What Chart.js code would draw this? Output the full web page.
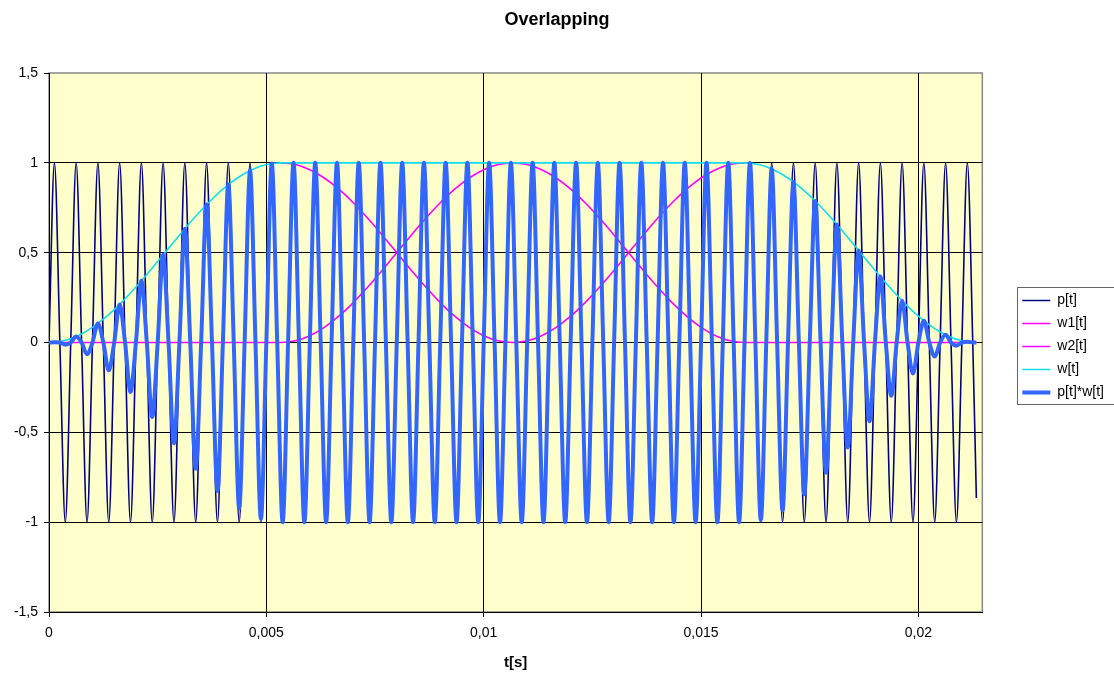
<!DOCTYPE html>
<html>
<head>
<meta charset="utf-8">
<title>Overlapping</title>
<script src="https://cdn.jsdelivr.net/npm/chart.js@4.4.1/dist/chart.umd.min.js"></script>
<style>
  html, body { margin: 0; padding: 0; background: #fff; }
  canvas { display: block; }
</style>
</head>
<body>
<canvas id="chart" width="1114" height="673"></canvas>
<script>
// time is kept in milliseconds, the axis labels show seconds
const xTickValues = [0, 5, 10, 15, 20];
const xTickLabels = ['0', '0,005', '0,01', '0,015', '0,02'];
const yTickValues = [-1.5, -1, -0.5, 0, 0.5, 1, 1.5];
const yTickLabels = ['-1,5', '-1', '-0,5', '0', '0,5', '1', '1,5'];

// p[t] and p[t]*w[t], read at each peak / zero crossing
const tWave = [
  0, 0.125, 0.25, 0.375, 0.5, 0.625, 0.75, 0.875,
  1, 1.125, 1.25, 1.375, 1.5, 1.625, 1.75, 1.875,
  2, 2.125, 2.25, 2.375, 2.5, 2.625, 2.75, 2.875,
  3, 3.125, 3.25, 3.375, 3.5, 3.625, 3.75, 3.875,
  4, 4.125, 4.25, 4.375, 4.5, 4.625, 4.75, 4.875,
  5, 5.125, 5.25, 5.375, 5.5, 5.625, 5.75, 5.875,
  6, 6.125, 6.25, 6.375, 6.5, 6.625, 6.75, 6.875,
  7, 7.125, 7.25, 7.375, 7.5, 7.625, 7.75, 7.875,
  8, 8.125, 8.25, 8.375, 8.5, 8.625, 8.75, 8.875,
  9, 9.125, 9.25, 9.375, 9.5, 9.625, 9.75, 9.875,
  10, 10.125, 10.25, 10.375, 10.5, 10.625, 10.75, 10.875,
  11, 11.125, 11.25, 11.375, 11.5, 11.625, 11.75, 11.875,
  12, 12.125, 12.25, 12.375, 12.5, 12.625, 12.75, 12.875,
  13, 13.125, 13.25, 13.375, 13.5, 13.625, 13.75, 13.875,
  14, 14.125, 14.25, 14.375, 14.5, 14.625, 14.75, 14.875,
  15, 15.125, 15.25, 15.375, 15.5, 15.625, 15.75, 15.875,
  16, 16.125, 16.25, 16.375, 16.5, 16.625, 16.75, 16.875,
  17, 17.125, 17.25, 17.375, 17.5, 17.625, 17.75, 17.875,
  18, 18.125, 18.25, 18.375, 18.5, 18.625, 18.75, 18.875,
  19, 19.125, 19.25, 19.375, 19.5, 19.625, 19.75, 19.875,
  20, 20.125, 20.25, 20.375, 20.5, 20.625, 20.75, 20.875,
  21, 21.125, 21.25, 21.333
];

const pValues = [
  0, 1, 0, -1, 0, 1, 0, -1,
  0, 1, 0, -1, 0, 1, 0, -1,
  0, 1, 0, -1, 0, 1, 0, -1,
  0, 1, 0, -1, 0, 1, 0, -1,
  0, 1, 0, -1, 0, 1, 0, -1,
  0, 1, 0, -1, 0, 1, 0, -1,
  0, 1, 0, -1, 0, 1, 0, -1,
  0, 1, 0, -1, 0, 1, 0, -1,
  0, 1, 0, -1, 0, 1, 0, -1,
  0, 1, 0, -1, 0, 1, 0, -1,
  0, 1, 0, -1, 0, 1, 0, -1,
  0, 1, 0, -1, 0, 1, 0, -1,
  0, 1, 0, -1, 0, 1, 0, -1,
  0, 1, 0, -1, 0, 1, 0, -1,
  0, 1, 0, -1, 0, 1, 0, -1,
  0, 1, 0, -1, 0, 1, 0, -1,
  0, 1, 0, -1, 0, 1, 0, -1,
  0, 1, 0, -1, 0, 1, 0, -1,
  0, 1, 0, -1, 0, 1, 0, -1,
  0, 1, 0, -1, 0, 1, 0, -1,
  0, 1, 0, -1, 0, 1, 0, -1,
  0, 1, 0, -0.866
];

const pwValues = [
  0, 0.001, 0, -0.012, 0, 0.034, 0, -0.065,
  0, 0.106, 0, -0.155, 0, 0.212, 0, -0.275,
  0, 0.343, 0, -0.415, 0, 0.488, 0, -0.561,
  0, 0.633, 0, -0.702, 0, 0.768, 0, -0.827,
  0, 0.879, 0, -0.922, 0, 0.957, 0, -0.982,
  0, 0.996, 0, -1, 0, 1, 0, -1,
  0, 1, 0, -1, 0, 1, 0, -1,
  0, 1, 0, -1, 0, 1, 0, -1,
  0, 1, 0, -1, 0, 1, 0, -1,
  0, 1, 0, -1, 0, 1, 0, -1,
  0, 1, 0, -1, 0, 1, 0, -1,
  0, 1, 0, -1, 0, 1, 0, -1,
  0, 1, 0, -1, 0, 1, 0, -1,
  0, 1, 0, -1, 0, 1, 0, -1,
  0, 1, 0, -1, 0, 1, 0, -1,
  0, 1, 0, -1, 0, 1, 0, -1,
  0, 0.999, 0, -0.988, 0, 0.967, 0, -0.935,
  0, 0.894, 0, -0.845, 0, 0.788, 0, -0.725,
  0, 0.657, 0, -0.585, 0, 0.512, 0, -0.439,
  0, 0.367, 0, -0.297, 0, 0.233, 0, -0.173,
  0, 0.121, 0, -0.078, 0, 0.043, 0, -0.018,
  0, 0.004, 0, 0
];

// w[t]
const tW = [
  0, 0.333, 0.667, 1, 1.333, 1.667, 2, 2.333, 2.667, 3, 3.333, 3.667, 4, 4.333, 4.667, 5, 5.333,
  16, 16.333, 16.667, 17, 17.333, 17.667, 18, 18.333, 18.667, 19, 19.333, 19.667, 20, 20.333, 20.667, 21, 21.333
];
const wValues = [
  0, 0.0096, 0.0381, 0.0843, 0.1464, 0.2222, 0.3087, 0.4025, 0.5, 0.5975, 0.6913, 0.7778, 0.8536, 0.9157, 0.9619, 0.9904, 1,
  1, 0.9904, 0.9619, 0.9157, 0.8536, 0.7778, 0.6913, 0.5975, 0.5, 0.4025, 0.3087, 0.2222, 0.1464, 0.0843, 0.0381, 0.0096, 0
];

// w1[t]
const tW1 = [
  0, 5.333, 5.667, 6, 6.333, 6.667, 7, 7.333, 7.667, 8, 8.333, 8.667, 9, 9.333, 9.667, 10, 10.333, 10.667,
  11, 11.333, 11.667, 12, 12.333, 12.667, 13, 13.333, 13.667, 14, 14.333, 14.667, 15, 15.333, 15.667, 16, 21.333
];
const w1Values = [
  0, 0, 0.0096, 0.0381, 0.0843, 0.1464, 0.2222, 0.3087, 0.4025, 0.5, 0.5975, 0.6913, 0.7778, 0.8536, 0.9157, 0.9619, 0.9904, 1,
  0.9904, 0.9619, 0.9157, 0.8536, 0.7778, 0.6913, 0.5975, 0.5, 0.4025, 0.3087, 0.2222, 0.1464, 0.0843, 0.0381, 0.0096, 0, 0
];

// w2[t]
const tW2 = [
  5.333, 5.667, 6, 6.333, 6.667, 7, 7.333, 7.667, 8, 8.333, 8.667, 9, 9.333, 9.667, 10, 10.333, 10.667,
  11, 11.333, 11.667, 12, 12.333, 12.667, 13, 13.333, 13.667, 14, 14.333, 14.667, 15, 15.333, 15.667, 16
];
const w2Values = [
  1, 0.9904, 0.9619, 0.9157, 0.8536, 0.7778, 0.6913, 0.5975, 0.5, 0.4025, 0.3087, 0.2222, 0.1464, 0.0843, 0.0381, 0.0096, 0,
  0.0096, 0.0381, 0.0843, 0.1464, 0.2222, 0.3087, 0.4025, 0.5, 0.5975, 0.6913, 0.7778, 0.8536, 0.9157, 0.9619, 0.9904, 1
];

const toPoints = (xs, ys) => xs.map((x, i) => ({ x: x, y: ys[i] }));

Chart.defaults.font.family = '"Liberation Sans", Arial, sans-serif';
Chart.defaults.color = '#000';

// yellow plot area with grey frame
const plotArea = {
  id: 'plotArea',
  beforeDraw(chart) {
    const { ctx, chartArea: a } = chart;
    ctx.save();
    ctx.fillStyle = '#FFFFCC';
    ctx.fillRect(a.left, a.top, a.right - a.left, a.bottom - a.top);
    ctx.strokeStyle = '#888';
    ctx.lineWidth = 1.5;
    ctx.strokeRect(a.left, a.top, a.right - a.left, a.bottom - a.top);
    ctx.restore();
  }
};

// frame round the legend
const legendFrame = {
  id: 'legendFrame',
  afterDraw(chart) {
    const boxes = chart.legend && chart.legend.legendHitBoxes;
    if (!boxes || !boxes.length) return;
    const first = boxes[0];
    const last = boxes[boxes.length - 1];
    const { ctx } = chart;
    ctx.save();
    ctx.strokeStyle = '#666';
    ctx.lineWidth = 1;
    const x = Math.round(first.left - 5) + 0.5;
    const y = Math.round(first.top - 7) + 0.5;
    const b = Math.round(last.top + last.height + 4) + 0.5;
    ctx.strokeRect(x, y, chart.width + 10 - x, b - y);
    ctx.restore();
  }
};

const line = (label, xs, ys, color, width, order) => ({
  label: label,
  data: toPoints(xs, ys),
  borderColor: color,
  backgroundColor: color,
  borderWidth: width,
  pointRadius: 0,
  pointStyle: 'line',
  fill: false,
  cubicInterpolationMode: 'monotone',
  order: order
});

new Chart(document.getElementById('chart'), {
  type: 'line',
  data: {
    datasets: [
      line('p[t]', tWave, pValues, '#000080', 1.6, 5),
      line('w1[t]', tW1, w1Values, '#FF00FF', 1.6, 4),
      line('w2[t]', tW2, w2Values, '#FF00FF', 1.6, 3),
      line('w[t]', tW, wValues, '#11DDEE', 1.6, 2),
      line('p[t]*w[t]', tWave, pwValues, '#3366FF', 4, 1)
    ]
  },
  options: {
    responsive: false,
    animation: false,
    events: [],
    layout: { padding: 0 },
    plugins: {
      title: {
        display: true,
        text: 'Overlapping',
        font: { size: 18, weight: 'bold' },
        padding: { top: 9, bottom: 42.4 }
      },
      legend: {
        position: 'right',
        title: { display: true, text: '', font: { size: 10 }, padding: { top: 4, bottom: 4 } },
        labels: {
          usePointStyle: true,
          pointStyle: 'line',
          pointStyleWidth: 28,
          padding: 9,
          font: { size: 14 },
          sort: (a, b) => a.datasetIndex - b.datasetIndex
        }
      },
      tooltip: { enabled: false }
    },
    scales: {
      x: {
        type: 'linear',
        min: 0,
        max: 21.47,
        afterBuildTicks: (scale) => { scale.ticks = xTickValues.map(v => ({ value: v })); },
        afterFit: (scale) => { scale.height = 61; },
        ticks: {
          autoSkip: false,
          maxRotation: 0,
          padding: 8,
          font: { size: 14 },
          callback: (value, index) => xTickLabels[index]
        },
        grid: { color: '#000', tickColor: '#000', tickLength: 5 },
        border: { color: '#000', width: 1 },
        title: {
          display: true,
          text: 't[s]',
          font: { size: 15, weight: 'bold' },
          padding: { top: 0, bottom: 1 }
        }
      },
      y: {
        min: -1.5,
        max: 1.5,
        afterBuildTicks: (scale) => { scale.ticks = yTickValues.map(v => ({ value: v })); },
        afterFit: (scale) => { scale.width = 49; },
        ticks: {
          autoSkip: false,
          padding: 6,
          font: { size: 14 },
          callback: (value, index) => yTickLabels[index]
        },
        grid: {
          color: (c) => (c.tick && c.tick.value === 1.5 ? 'rgba(0,0,0,0)' : '#000'),
          tickColor: '#000',
          tickLength: 5
        },
        border: { color: '#000', width: 1 }
      },
      gap: {
        position: 'right',
        afterFit: (scale) => { scale.width = 31; },
        grid: { display: false },
        ticks: { display: false },
        border: { display: false }
      }
    }
  },
  plugins: [plotArea, legendFrame]
});
</script>
</body>
</html>
